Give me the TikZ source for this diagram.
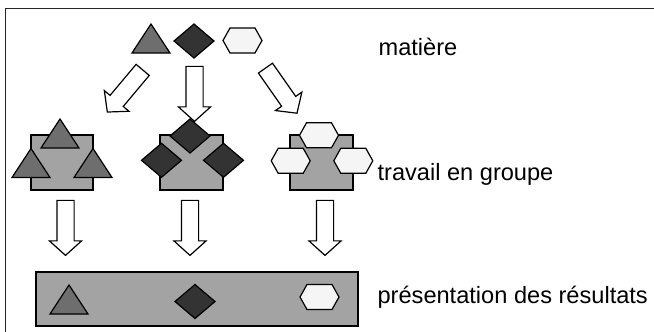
\documentclass[tikz,border=0pt]{standalone}
\usepackage{fontspec}
\setmainfont{Liberation Sans}
\usetikzlibrary{shapes.arrows}

\definecolor{trigris}{gray}{0.43}
\definecolor{losgris}{gray}{0.20}
\definecolor{hexblanc}{gray}{0.96}
\definecolor{fond}{gray}{0.64}

\begin{document}
\begin{tikzpicture}[x=1pt, y=-1pt, line width=1.2pt,
        bloc/.style = {draw, fill=fond},
        fleche/.style = {draw, fill=white, single arrow, single arrow head extend=7.5pt,
            single arrow tip angle=96, minimum height=55pt, inner xsep=0pt, inner ysep=8pt},
        legende/.style = {anchor=base west, inner sep=0pt, font=\fontsize{23.6}{28}\selectfont},
        tri/.pic = {\draw[fill=trigris] (-19,14.5) -- (0,-14.5) -- (19,14.5) -- cycle;},
        losange/.pic = {\draw[fill=losgris] (-20,0) -- (0,-17) -- (20,0) -- (0,17) -- cycle;},
        hexa/.pic = {\draw[fill=hexblanc] (-19.5,0) -- (-12.5,-12.5) -- (12.5,-12.5)
            -- (19.5,0) -- (12.5,12.5) -- (-12.5,12.5) -- cycle;}]
        \useasboundingbox (0,0) rectangle (654,332);
        \clip (0,0) rectangle (654,332);
        \draw[line width=1.6pt, black!85] (5.5,340) -- (5.5,8.5) -- (660,8.5);

        % matiere
        \pic (m1) at (151,38.5) {tri};
        \pic (m2) at (194,41) {losange};
        \pic (m3) at (242.5,40.5) {hexa};
        \node[legende] (matiere) at (378,55) {matière};

        \node[fleche, rotate=230] (f1) at (127.5,88) {};
        \node[fleche, rotate=-90] (f2) at (194.5,90) {};
        \node[fleche, rotate=-55] (f3) at (279,87.5) {};

        % travail en groupe
        \draw[bloc] (31,135) rectangle (93,190);
        \foreach \x/\y in {60/133.5, 31/163, 93/163}
            \pic at (\x,\y) {tri};
        \draw[bloc] (160,135) rectangle (223,190);
        \foreach \x/\y in {190/136, 161.5/160.3, 223.5/160.3}
            \pic at (\x,\y) {losange};
        \draw[bloc] (290,135) rectangle (353,190);
        \foreach \x/\y in {319/135.3, 290.7/160.8, 353.3/160.8}
            \pic at (\x,\y) {hexa};
        \node[legende] (travail) at (377,180) {travail en groupe};

        \foreach \x [count=\i] in {65.5,190,325}
            \node[fleche, rotate=-90] (d\i) at (\x,224) {};

        % presentation des resultats
        \draw[bloc] (36,272) rectangle (358,326);
        \pic (r1) at (69,299.5) {tri};
        \pic (r2) at (195,301.5) {losange};
        \pic (r3) at (319.5,297) {hexa};
        \node[legende] (resultats) at (377,303) {présentation des résultats};
    \end{tikzpicture}
\end{document}
